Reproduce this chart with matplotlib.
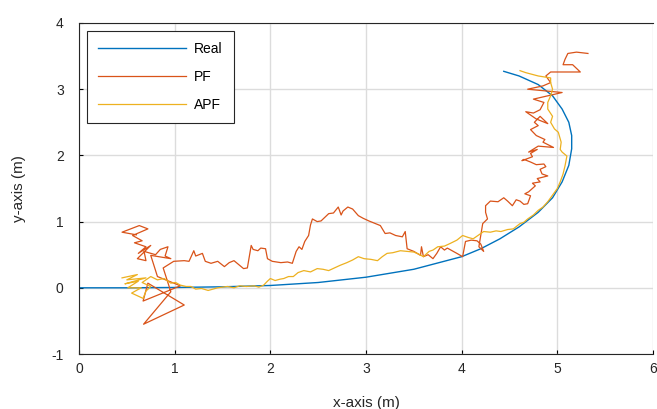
import matplotlib
matplotlib.use("Agg")
import matplotlib.pyplot as plt

plt.rcParams['font.family'] = ['Liberation Sans', 'DejaVu Sans']
plt.rcParams['axes.unicode_minus'] = False

# Real trajectory
real_x = [0, 0.5, 1.0, 1.5, 2.0, 2.5, 3.0, 3.5, 4.0, 4.2, 4.4, 4.6, 4.8, 4.95,
          5.05, 5.12, 5.15, 5.15, 5.12, 5.05, 4.95, 4.8, 4.6, 4.44]
real_y = [0, 0.0, 0.005, 0.015, 0.035, 0.08, 0.16, 0.28, 0.47, 0.59, 0.74, 0.92,
          1.14, 1.36, 1.6, 1.85, 2.1, 2.3, 2.5, 2.7, 2.9, 3.07, 3.2, 3.27]

# PF estimate
pf_x = [0.60, 0.45, 0.63, 0.72, 0.56, 0.66, 0.58, 0.70, 0.62, 0.75, 0.61, 0.70, 0.68,
        0.80, 0.85, 0.93, 0.90, 0.96, 0.75, 0.82, 1.06, 0.67, 0.72, 1.10, 0.675, 0.96,
        0.88, 0.99, 1.10, 1.15, 1.20, 1.22, 1.29, 1.32, 1.38, 1.45, 1.52, 1.57, 1.62,
        1.67, 1.72, 1.76, 1.80, 1.82, 1.87, 1.90, 1.95, 1.97, 2.02, 2.11, 2.18, 2.23,
        2.27, 2.30, 2.33, 2.36, 2.40, 2.42, 2.44, 2.49, 2.53, 2.58, 2.61, 2.66, 2.71,
        2.74, 2.76, 2.81, 2.86, 2.92, 2.97, 3.03, 3.10, 3.15, 3.20, 3.25, 3.31, 3.38,
        3.41, 3.43, 3.50, 3.57, 3.58, 3.60, 3.65, 3.70, 3.74, 3.78, 3.82, 3.85, 3.90,
        3.95, 4.01, 4.04, 4.10, 4.16, 4.20, 4.23, 4.18, 4.22, 4.27, 4.25, 4.25, 4.30,
        4.38, 4.44, 4.48, 4.53, 4.57, 4.61, 4.65,
        4.69, 4.72, 4.66, 4.70, 4.77, 4.74, 4.82, 4.79, 4.90, 4.84, 4.82, 4.88, 4.86,
        4.78, 4.72, 4.65, 4.63, 4.74, 4.72, 4.79, 4.70, 4.80, 4.96, 4.85, 4.87, 4.78,
        4.72, 4.80, 4.76, 4.82, 4.90, 4.78, 4.67, 4.75, 4.82, 4.86, 4.75, 4.90, 5.05,
        4.69, 4.85, 4.93, 4.88, 4.93, 5.11, 5.24, 5.16, 5.06, 5.08, 5.11, 5.20, 5.32]
pf_y = [0.80, 0.84, 0.94, 0.89, 0.79, 0.71, 0.68, 0.62, 0.52, 0.64, 0.44, 0.41, 0.55,
        0.50, 0.58, 0.62, 0.48, 0.44, 0.49, 0.17, 0.03, -0.20, 0.07, -0.26, -0.55, -0.06,
        0.30, 0.40, 0.41, 0.40, 0.56, 0.48, 0.52, 0.40, 0.37, 0.40, 0.32, 0.38, 0.41,
        0.35, 0.29, 0.30, 0.64, 0.58, 0.56, 0.60, 0.59, 0.44, 0.40, 0.38, 0.39, 0.37,
        0.55, 0.62, 0.58, 0.70, 0.79, 0.95, 1.04, 1.00, 1.01, 1.08, 1.12, 1.13, 1.22,
        1.10, 1.16, 1.22, 1.19, 1.09, 1.05, 1.01, 0.97, 0.94, 0.82, 0.83, 0.79, 0.77,
        0.85, 0.59, 0.55, 0.49, 0.62, 0.47, 0.50, 0.44, 0.52, 0.62, 0.57, 0.60, 0.56,
        0.52, 0.47, 0.70, 0.72, 0.71, 0.66, 0.55, 0.62, 0.97, 1.04, 1.14, 1.24, 1.31,
        1.30, 1.36, 1.31, 1.24, 1.33, 1.31, 1.26,
        1.27, 1.39, 1.42, 1.45, 1.54, 1.58, 1.60, 1.65, 1.69, 1.72, 1.79, 1.83, 1.87,
        1.86, 1.90, 1.94, 1.92, 1.98, 2.03, 2.09, 2.05, 2.14, 2.12, 2.20, 2.24, 2.30,
        2.39, 2.45, 2.50, 2.59, 2.48, 2.55, 2.66, 2.64, 2.69, 2.80, 2.85, 2.90, 2.95,
        3.00, 3.05, 3.10, 3.20, 3.26, 3.26, 3.26, 3.37, 3.37, 3.45, 3.54, 3.56, 3.54]

# APF estimate
apf_x = [0.45, 0.61, 0.50, 0.70, 0.48, 0.62, 0.51, 0.65, 0.55, 0.67, 0.70, 0.75, 0.66,
         0.75, 0.82, 0.89, 0.96, 1.01, 1.06, 1.12, 1.17, 1.22, 1.28, 1.35, 1.40, 1.45,
         1.50, 1.55, 1.62, 1.68, 1.75, 1.83, 1.88, 1.93, 1.97, 2.00, 2.05, 2.10, 2.14,
         2.19, 2.24, 2.29, 2.35, 2.42, 2.49, 2.55, 2.61, 2.67, 2.73, 2.80, 2.86, 2.92,
         2.98, 3.05, 3.12, 3.17, 3.22, 3.28, 3.36, 3.43, 3.50, 3.55, 3.60, 3.66, 3.70,
         3.75, 3.82, 3.88, 3.95, 4.01, 4.07, 4.12, 4.18, 4.23, 4.30, 4.36, 4.41, 4.48,
         4.54, 4.61, 4.65, 4.69, 4.75, 4.80, 4.85, 4.90, 4.95, 5.00, 5.03, 5.06, 5.08,
         5.10, 5.05, 5.03, 5.04, 5.01, 4.97, 4.93, 4.95, 4.90, 4.90, 4.93, 4.95, 4.93,
         4.93, 4.80, 4.67, 4.61]
apf_y = [0.15, 0.20, 0.12, 0.15, 0.06, 0.10, 0.0, 0.0, -0.08, -0.16, -0.05, 0.02, 0.08,
         0.17, 0.12, 0.14, 0.07, 0.08, 0.04, 0.02, 0.02, -0.02, -0.01, -0.04, -0.02, 0.0,
         0.01, 0.02, 0.0, 0.03, 0.02, 0.03, 0.01, 0.04, 0.10, 0.14, 0.11, 0.13, 0.14,
         0.17, 0.17, 0.23, 0.26, 0.24, 0.29, 0.28, 0.26, 0.30, 0.34, 0.38, 0.42, 0.47,
         0.44, 0.43, 0.41, 0.47, 0.52, 0.53, 0.56, 0.55, 0.54, 0.51, 0.47, 0.55, 0.57,
         0.62, 0.63, 0.67, 0.72, 0.79, 0.76, 0.74, 0.80, 0.85, 0.84, 0.86, 0.85, 0.88,
         0.89, 0.97, 0.99, 1.04, 1.10, 1.17, 1.22, 1.30, 1.40, 1.50, 1.60, 1.72, 1.84,
         1.99, 2.05, 2.09, 2.20, 2.35, 2.40, 2.50, 2.59, 2.70, 2.80, 2.90, 3.00, 3.10,
         3.17, 3.20, 3.25, 3.28]

fig = plt.figure(figsize=(6.57, 4.09), dpi=100)
ax = fig.add_axes([79 / 657, 1 - 354 / 409, (653 - 79) / 657, (354 - 23) / 409])

ax.plot(real_x, real_y, color='#0072BD', lw=1.0, label='Real')
ax.plot(pf_x, pf_y, color='#D95319', lw=0.9, label='PF')
ax.plot(apf_x, apf_y, color='#EDB120', lw=0.9, label='APF')

ax.set_xlim(0, 6)
ax.set_ylim(-1, 4)
ax.set_xticks(range(0, 7))
ax.set_yticks(range(-1, 5))
ax.grid(True, color='#dcdcdc', lw=1.0)
ax.set_axisbelow(True)
ax.tick_params(direction='in', labelsize=10, labelcolor='#262626', length=3)
ax.tick_params(axis='x', pad=6)
ax.tick_params(axis='y', pad=11)
for s in ax.spines.values():
    s.set_color('#262626')
    s.set_linewidth(0.8)
ax.spines['right'].set_visible(False)

ax.set_xlabel('x-axis (m)', fontsize=11, color='#262626', labelpad=14)
ax.set_ylabel('y-axis (m)', fontsize=11, color='#262626', labelpad=18)

leg = ax.legend(loc='upper left', bbox_to_anchor=(0.014, 0.976), borderaxespad=0,
                fancybox=False, framealpha=1, edgecolor='#262626', fontsize=10,
                handlelength=6.3, labelspacing=1.0, borderpad=0.8, handletextpad=0.6)
leg.get_frame().set_linewidth(0.8)

fig.savefig('out.png', dpi=100)
